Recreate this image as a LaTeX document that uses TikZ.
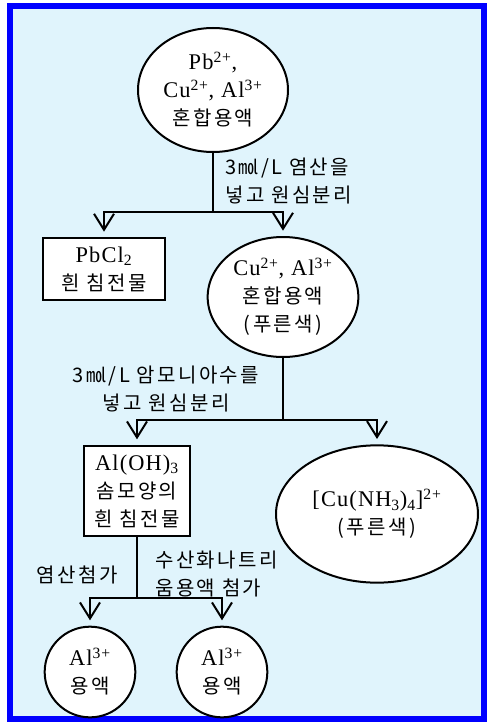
\documentclass[tikz,border=0pt]{standalone}
\usepackage{fontspec}
\setmainfont{Liberation Serif}[Scale=1.12, LetterSpace=5]
\newfontfamily\kr{Noto Sans CJK KR}[LetterSpace=12]
\usepackage{tikz}
\usetikzlibrary{shapes.geometric, arrows.meta, positioning}
\definecolor{framebg}{RGB}{224, 244, 252}
\definecolor{frameblue}{RGB}{0, 0, 255}

\begin{document}
\begin{tikzpicture}[
    x=0.75pt, y=-0.75pt,
    font=\fontsize{15}{21}\selectfont,
    ionbox/.style={rectangle, draw=black, line width=1.5pt, fill=white, align=center, inner sep=0pt},
    soln/.style={ellipse, draw=black, line width=1.5pt, fill=white, align=center, inner sep=0pt},
    drop/.style={circle, draw=black, line width=1.5pt, fill=white, align=center, inner sep=0pt, minimum size=68pt},
    link/.style={line width=1.5pt},
    arrow/.style={line width=1.5pt, -{Straight Barb[length=12pt, width=15pt]}, shorten >=4pt},
    note/.style={inner sep=0pt}
]

\useasboundingbox (0,0) rectangle (490,724);
\draw[frameblue, line width=4.5pt, fill=framebg] (10,6.5) rectangle (484,719);

\node[soln, minimum width=112.5pt, minimum height=93pt] (mix1) at (213,90)
    {Pb\textsuperscript{2+},\\ Cu\textsuperscript{2+}, Al\textsuperscript{3+}\\ {\kr 혼합용액}};
\node[ionbox, minimum width=91.5pt, minimum height=46.5pt] (pbcl) at (104,269)
    {PbCl\textsubscript{2}\\ {\kr 흰 침전물}};
\node[soln, minimum width=113pt, minimum height=90pt] (mix2) at (283,297)
    {Cu\textsuperscript{2+}, Al\textsuperscript{3+}\\ {\kr 혼합용액}\\ {\kr (푸른색)}};
\node[ionbox, minimum width=80pt, minimum height=68pt] (aloh) at (137,491)
    {Al(OH)\textsubscript{3}\\ {\kr 솜모양의}\\ {\kr 흰 침전물}};
\node[soln, minimum width=151.5pt, minimum height=103pt] (cplx) at (377,514)
    {[Cu(NH\textsubscript{3})\textsubscript{4}]\textsuperscript{2+}\\ {\kr (푸른색)}};
\node[drop] (al1) at (90,672) {Al\textsuperscript{3+}\\ {\kr 용액}};
\node[drop] (al2) at (222,672) {Al\textsuperscript{3+}\\ {\kr 용액}};

% labels
\node[note, align=left, anchor=west] (hcl) at (225,181) {{\kr 3㏖/L 염산을}\\ {\kr 넣고 원심분리}};
\node[note, align=center] (nh3) at (166,389) {{\kr 3㏖/L 암모니아수를}\\ {\kr 넣고 원심분리}};
\node[note] (acid) at (77,575) {\kr 염산첨가};
\node[note, align=left, anchor=west] (naoh) at (155,574) {{\kr 수산화나트리}\\ {\kr 움용액 첨가}};

% branch points
\coordinate (s1) at (213,212);
\coordinate (s2) at (283,420);
\coordinate (s3) at (137,598);

\draw[link] (mix1) -- (s1);
\draw[arrow] (s1) -| (pbcl.north);
\draw[arrow] (s1) -| (mix2.north);
\draw[link] (mix2) -- (s2);
\draw[arrow] (s2) -| (aloh.north);
\draw[arrow] (s2) -| (cplx.north);
\draw[link] (aloh) -- (s3);
\draw[arrow] (s3) -| (al1.north);
\draw[arrow] (s3) -| (al2.north);

\end{tikzpicture}
\end{document}
